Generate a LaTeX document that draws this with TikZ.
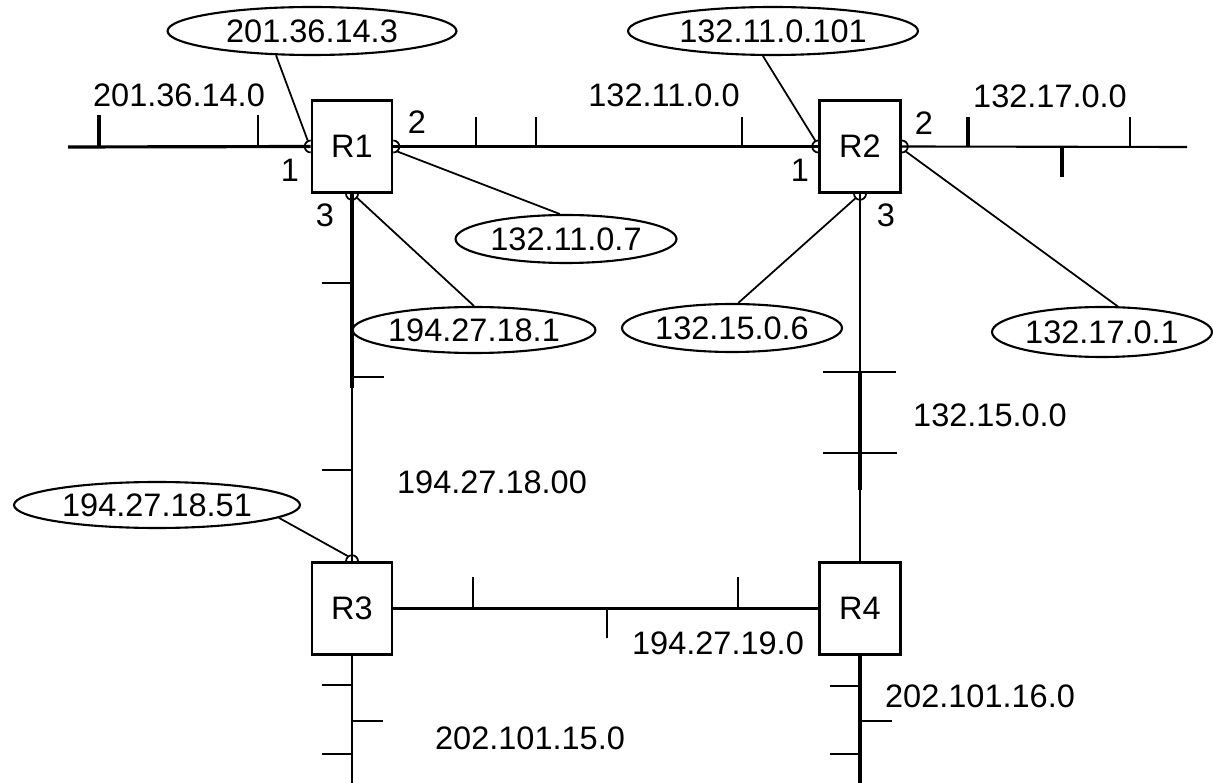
\documentclass[tikz,border=0pt]{standalone}
\usepackage{fontspec}
\setmainfont{Liberation Sans}
\usetikzlibrary{shapes.geometric,calc}

\begin{document}
\begin{tikzpicture}[x=0.02cm,y=-0.02cm,
        every node/.style={font=\fontsize{18.5}{22}\selectfont},
        router/.style={draw,line width=1.5pt,minimum width=1.6cm,minimum height=1.84cm,inner sep=0pt},
        addr/.style={draw,ellipse,line width=1.2pt,inner sep=0pt,minimum height=0.96cm},
        bus/.style={line width=1.2pt},
        fatbus/.style={line width=1.8pt},
        tick/.style={line width=1.2pt},
        lead/.style={line width=1pt}]
        \useasboundingbox (0,0) rectangle (1213,783);
        % routers
        \node[router] (R1) at (352,146.5) {R1};
        \node[router,minimum width=1.62cm] (R2) at (860,146.5) {R2};
        \node[router] (R3) at (352,608.5) {R3};
        \node[router,minimum width=1.62cm] (R4) at (860,608.5) {R4};
        % free bus ends
        \coordinate (wL) at (68,147);
        \coordinate (wR) at (1187,147);
        \coordinate (s3) at (R3.south |- 0,783);
        \coordinate (s4) at (R4.south |- 0,783);
        % networks
        \draw[fatbus] (wL) -- (R1.west);
        \draw[bus] (R1.east) -- (R2.west);
        \draw[bus] (R2.east) -- (wR);
        \draw[bus] (R1.south) -- (R3.north);
        \draw[bus] (R2.south) -- (R4.north);
        \draw[bus] (R3.east) -- (R4.west);
        \draw[bus] (R3.south) -- (s3);
        \draw[fatbus] (R4.south) -- (s4);
        \draw[fatbus] (R1.south) -- (352,388);
        \draw[fatbus] (860,372) -- (860,490);
        % taps
        \draw[fatbus] (99,147) -- (99,115);
        \draw[tick] (258,147) -- (258,115);
        \draw[tick] (476,147) -- (476,117);
        \draw[tick] (536,147) -- (536,117);
        \draw[tick] (742,147) -- (742,117);
        \draw[fatbus] (968,147) -- (968,117);
        \draw[tick] (1130,147) -- (1130,117);
        \draw[fatbus] (1062,147) -- (1062,177);
        \draw[tick] (352,283) -- (322,283);
        \draw[tick] (352,377) -- (384,377);
        \draw[tick] (352,470) -- (322,470);
        \draw[tick] (823,372) -- (896,372);
        \draw[tick] (823,453) -- (897,453);
        \draw[tick] (473,608) -- (473,577);
        \draw[tick] (607,608) -- (607,638);
        \draw[tick] (738,608) -- (738,577);
        \draw[tick] (352,685) -- (322,685);
        \draw[tick] (352,721) -- (383,721);
        \draw[tick] (352,754) -- (322,754);
        \draw[tick] (860,686) -- (830,686);
        \draw[tick] (860,721) -- (892,721);
        \draw[tick] (860,754) -- (830,754);
        % network numbers
        \node (n1) at (179,95) {201.36.14.0};
        \node (n2) at (664,95) {132.11.0.0};
        \node (n3) at (1050,96) {132.17.0.0};
        \node (n4) at (492,482) {194.27.18.00};
        \node (n5) at (990,415) {132.15.0.0};
        \node (n6) at (718,643) {194.27.19.0};
        \node (n7) at (980,696) {202.101.16.0};
        \node (n8) at (530,738) {202.101.15.0};
        % interface numbers
        \node (i11) at (290,170) {1};
        \node (i12) at (417,122) {2};
        \node (i13) at (325,215) {3};
        \node (i21) at (800,170) {1};
        \node (i22) at (924,123) {2};
        \node (i23) at (886,215) {3};
        % interface addresses
        \node[addr,minimum width=5.78cm] (a1) at (312,31) {201.36.14.3};
        \node[addr,minimum width=5.8cm] (a2) at (773,31) {132.11.0.101};
        \node[addr,minimum width=4.42cm] (a3) at (566,239) {132.11.0.7};
        \node[addr,minimum width=4.44cm,minimum height=0.92cm] (a4) at (474,330) {194.27.18.1};
        \node[addr,minimum width=4.4cm] (a5) at (732,328) {132.15.0.6};
        \node[addr,minimum width=4.4cm,minimum height=1cm] (a6) at (1102,332) {132.17.0.1};
        \node[addr,minimum width=5.72cm,minimum height=0.92cm] (a7) at (157,505) {194.27.18.51};
        \draw[lead] (a1.214) -- ($(R1.west)+(-3,-6)$);
        \draw[lead] (a2.248) -- ($(R2.west)+(-3,-6)$);
        \draw[lead] ($(R1.east)+(4,5)$) -- (a3.104);
        \draw[lead] ($(R1.south)+(5,4)$) -- (a4.north);
        \draw[lead] ($(R2.south)+(-4,4)$) -- (a5.76);
        \draw[lead] ($(R2.east)+(4,5)$) -- (a6.59);
        \draw[lead] (a7.354) -- ($(R3.north)+(-4,-5)$);
        % interface marks
        \draw[lead] (R1.west) ++(0,-6) arc[start angle=90,end angle=270,radius=0.12cm];
        \draw[lead] (R1.east) ++(0,-6) arc[start angle=90,end angle=-90,radius=0.12cm];
        \draw[lead] (R1.south) ++(6,0) arc[start angle=0,end angle=-180,radius=0.12cm];
        \draw[lead] (R2.west) ++(0,-6) arc[start angle=90,end angle=270,radius=0.12cm];
        \draw[lead] (R2.east) ++(0,-6) arc[start angle=90,end angle=-90,radius=0.12cm];
        \draw[lead] (R2.south) ++(6,0) arc[start angle=0,end angle=-180,radius=0.12cm];
        \draw[lead] (R3.north) ++(6,0) arc[start angle=0,end angle=180,radius=0.12cm];
    \end{tikzpicture}
\end{document}
